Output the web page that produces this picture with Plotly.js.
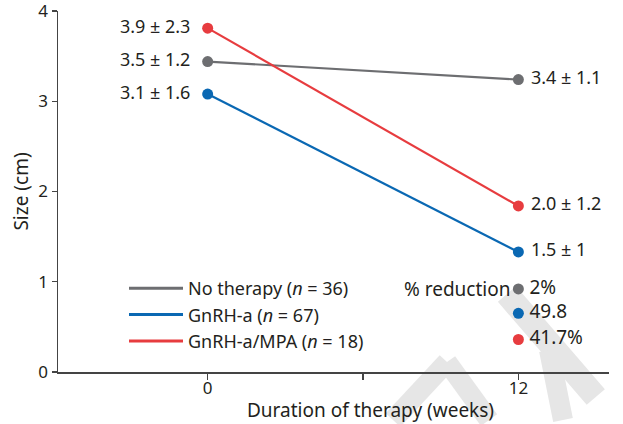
<!DOCTYPE html>
<html>
<head>
<meta charset="utf-8">
<script src="https://cdn.plot.ly/plotly-3.0.1.min.js"></script>
<style>html,body{margin:0;padding:0;background:#fff;}#chart{width:623px;height:424px;}</style>
</head>
<body>
<div id="chart"></div>
<script>
// ---- data ----
const weeks = [0, 12];
const seriesNames = ["No therapy (<i>n</i> = 36)", "GnRH-a (<i>n</i> = 67)", "GnRH-a/MPA (<i>n</i> = 18)"];
const noTherapy = [3.44, 3.24];
const gnrh = [3.08, 1.33];
const gnrhMpa = [3.81, 1.84];
const noTherapyLabels = ["3.5 \u00b1 1.2", "3.4 \u00b1 1.1"];
const gnrhLabels = ["3.1 \u00b1 1.6", "1.5 \u00b1 1"];
const gnrhMpaLabels = ["3.9 \u00b1 2.3", "2.0 \u00b1 1.2"];
const reductionX = [12, 12, 12];
const reductionY = [0.92, 0.65, 0.36];
const reductionLabels = ["2%", "49.8", "41.7%"];
const xTickVals = [0, 6, 12];
const xTickText = ["0", "", "12"];
const yTickVals = [0, 1, 2, 3, 4];

// ---- style ----
const colors = ["#6d6e71", "#0a68b3", "#e73c3f"];
const FONT = "'Noto Sans', 'Open Sans', sans-serif";
const TXT = "#231f20";

function series(y, labels, color) {
  return {
    x: weeks, y: y, mode: "lines+markers+text",
    text: labels.map((t, i) => i === 0 ? t + "  " : " " + t),
    textposition: ["middle left", "middle right"],
    textfont: {family: FONT, size: 18, color: TXT},
    line: {color: color, width: 2.2},
    marker: {color: color, size: 11},
    showlegend: false, hoverinfo: "skip", cliponaxis: false
  };
}
function legendTrace(name, color) {
  return {x: [null], y: [null], mode: "lines", name: name,
          line: {color: color, width: 3}, showlegend: true};
}

const traces = [
  series(noTherapy, noTherapyLabels, colors[0]),
  series(gnrh, gnrhLabels, colors[1]),
  series(gnrhMpa, gnrhMpaLabels, colors[2]),
  {
    x: reductionX, y: reductionY, mode: "markers+text",
    text: reductionLabels.map(t => "\u2009" + t),
    textposition: "middle right",
    textfont: {family: FONT, size: 19, color: TXT},
    marker: {color: colors, size: 11},
    showlegend: false, hoverinfo: "skip", cliponaxis: false
  },
  legendTrace(seriesNames[0], colors[0]),
  legendTrace(seriesNames[1], colors[1]),
  legendTrace(seriesNames[2], colors[2])
];

const L = 58, T = 11, W = 623 - 58 - 14, H = 424 - T - 52;
const px = x => (x - L) / W;
const py = y => (T + H - y) / H;
const WM = "rgb(230,230,230)";
function wmLine(xa, ya, xb, yb, w) {
  return {type: "line", xref: "paper", yref: "paper", layer: "below",
          x0: px(xa), y0: py(ya), x1: px(xb), y1: py(yb),
          line: {color: WM, width: w}};
}

const layout = {
  width: 623, height: 424,
  margin: {l: L, r: 14, t: T, b: 52},
  paper_bgcolor: "#fff", plot_bgcolor: "rgba(0,0,0,0)",
  font: {family: FONT, size: 17, color: TXT},
  xaxis: {
    range: [-5.78, 15.5], tickmode: "array", tickvals: xTickVals, ticktext: xTickText,
    ticks: "outside", ticklen: 6, tickwidth: 1.3, tickcolor: "#444",
    showline: true, linecolor: "#444", linewidth: 1.5, ticklabelstandoff: -6,
    ticklabeloverflow: "allow",
    showgrid: false, zeroline: false, tickfont: {size: 17, color: TXT}
  },
  yaxis: {
    range: [0, 4], tickmode: "array", tickvals: yTickVals,
    ticks: "outside", ticklen: 5, tickwidth: 1.3, tickcolor: "#444",
    showline: true, linecolor: "#444", linewidth: 1.5, ticklabeloverflow: "allow",
    showgrid: false, zeroline: false, tickfont: {size: 17, color: TXT},
    title: {text: "Size (cm)", font: {size: 19, color: TXT}, standoff: 4}
  },
  legend: {
    x: px(124), y: py(270), xanchor: "left", yanchor: "top", itemwidth: 54,
    bgcolor: "rgba(0,0,0,0)", font: {size: 18, color: TXT}, tracegroupgap: 0
  },
  annotations: [
    {x: 12, y: reductionY[0], xref: "x", yref: "y", text: "% reduction",
     showarrow: false, xanchor: "right", xshift: -6, font: {size: 19, color: TXT}},
    {x: px(370), y: 0, xref: "paper", yref: "paper", yshift: -38,
     text: "Duration of therapy (weeks)", showarrow: false,
     xanchor: "center", yanchor: "middle", font: {size: 19, color: TXT}}
  ],
  shapes: [
    {type: "line", xref: "x", yref: "paper", layer: "below",
     x0: 11.56, y0: py(294), x1: 14.99, y1: py(397),
     line: {color: WM, width: 24}},
    wmLine(393, 420, 447, 362, 20),
    wmLine(447, 362, 489, 420, 20),
    wmLine(549, 350, 563, 420, 20)
  ]
};

Plotly.newPlot("chart", traces, layout, {displayModeBar: false, staticPlot: true});
</script>
</body>
</html>
